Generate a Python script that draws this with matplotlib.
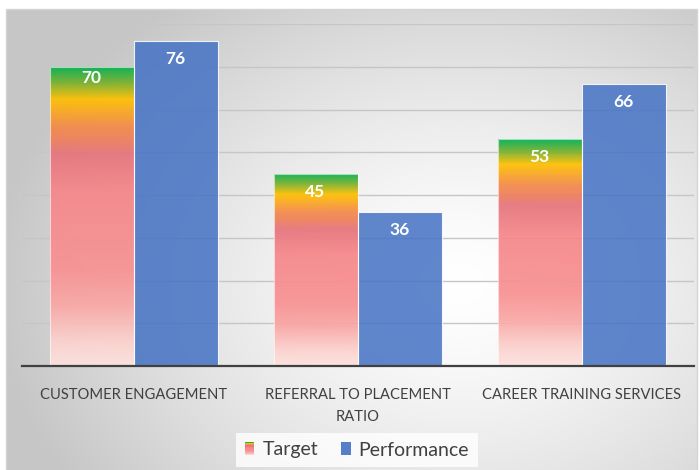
import numpy as np
import matplotlib
matplotlib.use("Agg")
import matplotlib.pyplot as plt
from matplotlib.colors import LinearSegmentedColormap
from matplotlib.legend_handler import HandlerBase
from matplotlib.patches import Rectangle

categories = ["CUSTOMER ENGAGEMENT", "REFERRAL TO PLACEMENT\nRATIO", "CAREER TRAINING SERVICES"]
target = [70, 45, 53]
performance = [76, 36, 66]
series_names = ["Target", "Performance"]

plt.rcParams["font.family"] = ["Lato", "DejaVu Sans"]
TEXT = "#404040"
BLUE = "#4472C4"

# target fill: light pink at the base, green at the top
target_cmap = LinearSegmentedColormap.from_list("target", [
    (0.00, "#fde2de"),
    (0.08, "#fcd2ce"),
    (0.20, "#f9a8a6"),
    (0.32, "#f89192"),
    (0.58, "#f5878a"),
    (0.71, "#e6747c"),
    (0.76, "#ef8058"),
    (0.80, "#f48a48"),
    (0.89, "#ffc000"),
    (0.95, "#70b030"),
    (1.00, "#00b050"),
])


class GradientHandler(HandlerBase):
    def create_artists(self, legend, orig_handle, xdescent, ydescent,
                       width, height, fontsize, trans):
        n = 24
        arts = []
        for i in range(n):
            r = Rectangle((-xdescent, -ydescent + i * height / n), width, height / n,
                          facecolor=target_cmap((i + 0.5) / n), linewidth=0,
                          transform=trans)
            arts.append(r)
        return arts


W, H = 700, 470
fig = plt.figure(figsize=(W / 100, H / 100), dpi=100)

# --- background panel with radial gradient ---
bg = fig.add_axes([0, 0, 1, 1], zorder=0)
bg.set_xlim(0, W)
bg.set_ylim(H, 0)
bg.axis("off")
px, py = np.meshgrid(np.arange(W), np.arange(H))
r = np.sqrt(((px - 460) / 470) ** 2 + ((py - 280) / 360) ** 2)
shade = 1 - 0.22 * np.clip(r, 0, 1) ** 1.4
img = np.dstack([shade, shade, shade])
bg.imshow(img, extent=[6, 697, 470, 9], aspect="auto", interpolation="bilinear")
bg.add_patch(Rectangle((6, 9), 691, 470, fill=False, edgecolor="#d4d4d4", lw=1))

# --- chart ---
ax = fig.add_axes([21.5 / W, 1 - 366 / H, 672 / W, 342 / H], zorder=1)
ax.set_facecolor("none")
x = np.arange(len(categories))
w = 0.375

t_bars = ax.bar(x - w / 2, target, w, facecolor="none",
                edgecolor=(1, 1, 1, 0.6), lw=0.8, zorder=3)
grad = np.linspace(0, 1, 256).reshape(-1, 1)
for b in t_bars:
    im = ax.imshow(grad, cmap=target_cmap, origin="lower", aspect="auto",
                   extent=[b.get_x(), b.get_x() + b.get_width(), 0, b.get_height()],
                   alpha=0.93, zorder=2, interpolation="bilinear")
    im.set_clip_path(b)

p_bars = ax.bar(x + w / 2, performance, w, color=BLUE, alpha=0.85,
                edgecolor=(1, 1, 1, 0.6), lw=0.8, zorder=2)

ax.set_xlim(-0.5, len(categories) - 0.5)
ax.set_ylim(0, 80)
ax.set_yticks(np.arange(10, 81, 10))
ax.yaxis.grid(True, color="#c6c6c6", lw=1)
ax.set_axisbelow(True)
ax.tick_params(axis="y", length=0, labelleft=False)
ax.set_xticks(x, categories, color=TEXT, fontsize=10.6, linespacing=1.7)
ax.tick_params(axis="x", length=0, pad=16)
for s in ["top", "right", "left"]:
    ax.spines[s].set_visible(False)
ax.spines["bottom"].set_color(TEXT)
ax.spines["bottom"].set_linewidth(1.6)
ax.spines["bottom"].set_zorder(4)

label_drop = [(-8, -13), (-13, -13), (-13, -13)]
for i in range(len(categories)):
    ax.annotate(str(target[i]), (x[i] - w / 2, target[i]), xytext=(0, label_drop[i][0]),
                textcoords="offset points", ha="center", va="center",
                color="white", fontsize=12.5, fontweight="bold", zorder=5)
    ax.annotate(str(performance[i]), (x[i] + w / 2, performance[i]), xytext=(0, label_drop[i][1]),
                textcoords="offset points", ha="center", va="center",
                color="white", fontsize=12.5, fontweight="bold", zorder=5)

proxy_t = Rectangle((0, 0), 1, 1)
proxy_p = Rectangle((0, 0), 1, 1, facecolor=BLUE, alpha=0.9)
leg = fig.legend([proxy_t, proxy_p], series_names, loc="center",
                 bbox_to_anchor=(357 / W, 1 - 450 / H),
                 handler_map={proxy_t: GradientHandler()},
                 ncol=2, fontsize=14, frameon=True, fancybox=False,
                 handlelength=0.5, handleheight=0.65, handletextpad=0.4,
                 columnspacing=1.2, borderpad=0.45)
leg.get_frame().set_facecolor((1, 1, 1, 0.25))
leg.get_frame().set_edgecolor("none")
for t in leg.get_texts():
    t.set_color(TEXT)

fig.savefig("out.png", dpi=100)
